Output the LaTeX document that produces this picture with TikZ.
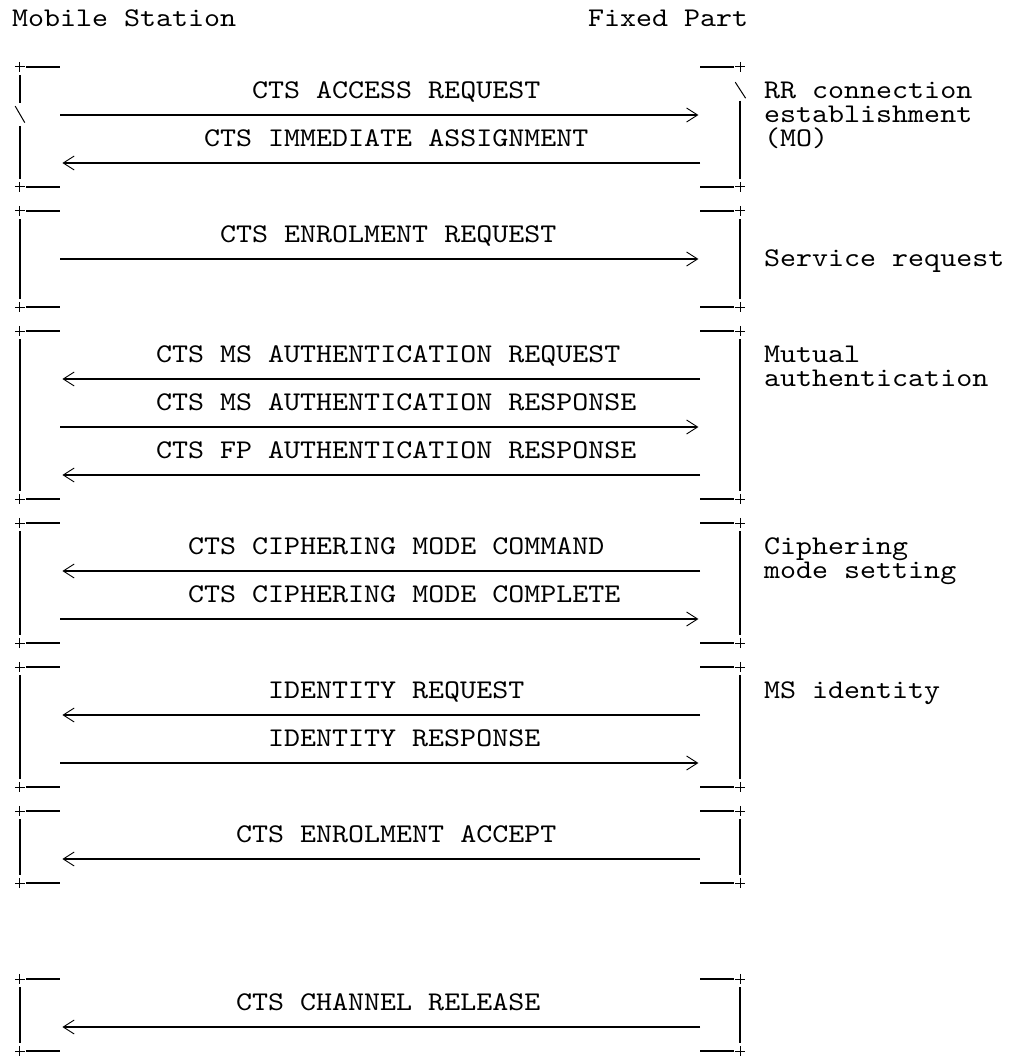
\documentclass[tikz,border=0pt]{standalone}
\usepackage{fontspec}
\usetikzlibrary{arrows.meta}
\newfontfamily\asciimono[FakeStretch=1.129]{lmmono10-regular.otf}

\tikzset{
	txt/.style={font=\asciimono\fontsize{27}{29}\selectfont, anchor=base west, inner sep=0pt,
		text height=15pt, text depth=4pt, yshift=-7.5pt},
	hrule/.style={line width=1.4pt},
	vrule/.style={line width=1.8pt},
	thinrule/.style={line width=1pt},
	msgarrow/.style={hrule, -{Straight Barb[length=11pt,width=14pt,line width=0.9pt]}}
}

\begin{document}
\begin{tikzpicture}[x=16pt, y=-24pt]
	\fill[white] (-1.25,-0.7917) rectangle (62.3125,43.2083);
	\useasboundingbox (-1.25,-0.7917) rectangle (62.3125,43.2083);

	\node[txt] (ms) at (-0.5,0) {Mobile Station};
	\node[txt] (fp) at (35.5,0) {Fixed Part};

	\foreach \r/\c/\t/\s/\e in {
			3/15/CTS ACCESS REQUEST/2.5/42.4,
			5/12/CTS IMMEDIATE ASSIGNMENT/42.5/2.65,
			9/13/CTS ENROLMENT REQUEST/2.5/42.4,
			14/9/CTS MS AUTHENTICATION REQUEST/42.5/2.65,
			16/9/CTS MS AUTHENTICATION RESPONSE/2.5/42.4,
			18/9/CTS FP AUTHENTICATION RESPONSE/42.5/2.65,
			22/11/CTS CIPHERING MODE COMMAND/42.5/2.65,
			24/11/CTS CIPHERING MODE COMPLETE/2.5/42.4,
			28/16/IDENTITY REQUEST/42.5/2.65,
			30/16/IDENTITY RESPONSE/2.5/42.4,
			34/14/CTS ENROLMENT ACCEPT/42.5/2.65,
			41/14/CTS CHANNEL RELEASE/42.5/2.65} {
		\node[txt] (m\r) at (\c-0.5,\r) {\t};
		\coordinate (s\r) at (\s,\r+1);
		\coordinate (e\r) at (\e,\r+1);
		\draw[msgarrow] (s\r) -- (e\r);
	}

	\foreach \r/\t in {3/RR connection, 4/establishment, 5/{(MO)}, 10/Service request,
			14/Mutual, 15/authentication, 22/Ciphering, 23/mode setting, 28/MS identity} {
		\node[txt] (n\r) at (46.5,\r) {\t};
	}

	\foreach \t/\b in {2/7, 8/12, 13/20, 21/26, 27/32, 33/36, 40/43} {
		\foreach \y in {\t,\b} {
			\draw[thinrule] (-0.3,\y) -- (0.3,\y) (0,\y-0.21) -- (0,\y+0.21);
			\draw[thinrule] (44.7,\y) -- (45.3,\y) (45,\y-0.21) -- (45,\y+0.21);
			\draw[hrule] (0.4,\y) -- (2.5,\y);
			\draw[hrule] (42.5,\y) -- (44.6,\y);
		}
	}

	\foreach \t/\b in {8/12, 13/20, 21/26, 27/32, 33/36, 40/43} {
		\draw[vrule] (0,\t+0.35) -- (0,\b-0.35);
		\draw[vrule] (45,\t+0.35) -- (45,\b-0.35);
	}

	\draw[vrule] (0,2.35) -- (0,3.5) (0,4.45) -- (0,6.65);
	\draw[thinrule] (-0.3,3.63) -- (0.3,4.32);
	\draw[thinrule] (44.7,2.63) -- (45.35,3.3);
	\draw[vrule] (45,3.4) -- (45,6.65);
\end{tikzpicture}
\end{document}
